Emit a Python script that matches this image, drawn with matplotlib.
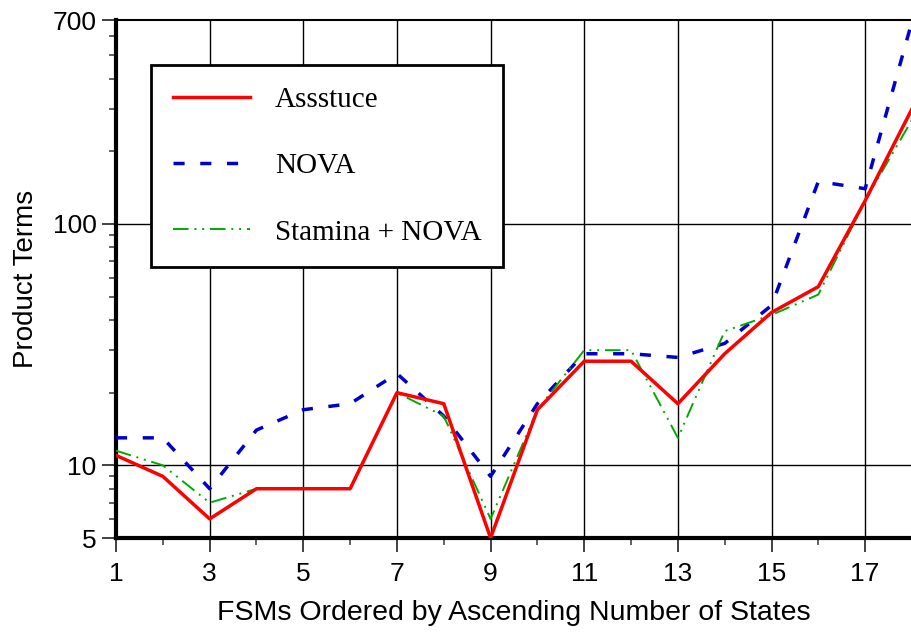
import matplotlib
matplotlib.use('Agg')
import matplotlib.pyplot as plt
from matplotlib.ticker import FixedLocator, NullFormatter

# FSM benchmarks, ordered by number of states
fsm = list(range(1, 19))

# product terms per tool
assstuce = [11, 9, 6, 8, 8, 8, 20, 18, 5, 17, 27, 27, 18, 29, 43, 55, 125, 300]
nova = [13, 13, 8, 14, 17, 18, 24, 16, 9, 18, 29, 29, 28, 32, 46, 150, 140, 690]
stamina_nova = [11.5, 10, 7, 8, 8, 8, 20, 16, 6, 17, 30, 30, 13, 36, 42, 51, 125, 270]

y_major = [5, 10, 100, 700]
y_minor = [6, 7, 8, 9, 20, 30, 40, 50, 60, 70, 80, 90, 200, 300, 400, 500, 600]
x_labels = [1, 3, 5, 7, 9, 11, 13, 15, 17]

plt.rcParams['font.family'] = ['Liberation Sans', 'DejaVu Sans']

fig = plt.figure(figsize=(9.12, 6.32), dpi=100)
ax = fig.add_axes([116 / 912, 94 / 632, 796 / 912, 518 / 632])

ax.plot(fsm, assstuce, color='#ff0000', lw=2.5, label='Assstuce', zorder=5)
ax.plot(fsm, nova, color='#0000cc', lw=2.5, ls=(0, (3.2, 4.5)), label='NOVA', zorder=4)
ax.plot(fsm, stamina_nova, color='#00aa00', lw=1.4,
        ls=(0, (8, 3, 1, 3, 1, 3)), label='Stamina + NOVA', zorder=4)

ax.set_yscale('log')
ax.set_ylim(5, 700)
ax.set_xlim(1, 18)

ax.yaxis.set_major_locator(FixedLocator(y_major))
ax.yaxis.set_minor_locator(FixedLocator(y_minor))
ax.yaxis.set_minor_formatter(NullFormatter())
ax.set_yticklabels([str(v) for v in y_major])

ax.xaxis.set_major_locator(FixedLocator(x_labels))
ax.xaxis.set_minor_locator(FixedLocator([v for v in fsm if v % 2 == 0]))
ax.set_xticklabels([str(v) for v in x_labels])

ax.tick_params(axis='both', which='major', direction='out', length=10, width=1.3,
               labelsize=19, color='#333333')
ax.tick_params(axis='y', which='major', pad=4)
ax.tick_params(axis='x', which='major', pad=7)
ax.tick_params(axis='both', which='minor', direction='out', length=5, width=1.3,
               color='#555555')

# grid: odd states and the 10 / 100 decades
for xv in x_labels[1:]:
    ax.axvline(xv, color='black', lw=1.0, zorder=1)
for yv in [10, 100]:
    ax.axhline(yv, color='black', lw=1.0, zorder=1)

ax.spines['left'].set_linewidth(3)
ax.spines['bottom'].set_linewidth(3)
ax.spines['top'].set_linewidth(1.5)
ax.spines['right'].set_visible(False)

ax.set_ylabel('Product Terms', fontsize=20, labelpad=10)
ax.set_xlabel('FSMs Ordered by Ascending Number of States', fontsize=20.5, labelpad=10)

leg = ax.legend(loc='upper left', bbox_to_anchor=(0.044, 0.913),
                prop={'family': ['Liberation Serif', 'DejaVu Serif'], 'size': 21},
                frameon=True, fancybox=False, framealpha=1, edgecolor='black',
                handlelength=2.65, handletextpad=0.85, labelspacing=1.36,
                borderpad=0.75, borderaxespad=0)
leg.get_frame().set_linewidth(2)
leg.set_zorder(10)

fig.savefig('out.png', dpi=100)
